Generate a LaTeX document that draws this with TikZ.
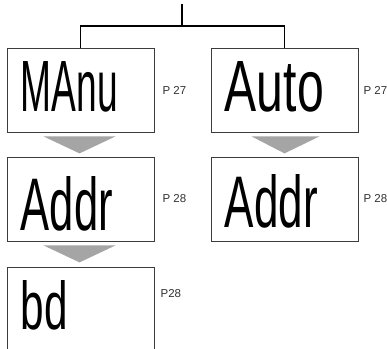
\documentclass[tikz,border=0pt]{standalone}
\usepackage{fontspec}
\setmainfont{Liberation Sans}
\usepackage{xcolor}
\usepackage{graphicx}
\usepackage{tikz}
\usetikzlibrary{positioning, calc}
\definecolor{framegray}{RGB}{60, 60, 60}
\definecolor{stepgray}{RGB}{165, 165, 165}
\definecolor{labelgray}{RGB}{50, 50, 50}

\begin{document}
\begin{tikzpicture}[
    x=1pt, y=-1pt,
    display/.style={draw=framegray, line width=0.8pt, fill=white, minimum width=147pt, minimum height=84pt, inner sep=0pt},
    lcd/.style={inner sep=0pt, font=\fontsize{60}{60}\selectfont},
    pageref/.style={inner sep=0pt, text=labelgray, font=\fontsize{11.5}{12}\selectfont},
    tree/.style={draw=black, line width=1.6pt},
    steptri/.style={fill=stepgray}
]
\useasboundingbox (0,0) rectangle (387,348);

% Displays: manual branch
\node[display] (manu) at (80.5, 90) {};
\node[display] (addrL) at (80.5, 199) {};
\node[display, minimum height=82.5pt] (baud) at (80.5, 308.25) {};

% Displays: automatic branch
\node[display] (auto) at (284.5, 90) {};
\node[display] (addrR) at (284.5, 199) {};

% LCD readings
\node[lcd, below right=14pt and 14pt of manu.north west] (manuTxt) {\resizebox{97pt}{50pt}{MAnu}};
\node[lcd, below right=20pt and 14pt of addrL.north west] (addrLTxt) {\resizebox{92pt}{54pt}{Addr}};
\node[lcd, below right=14pt and 14pt of baud.north west] (baudTxt) {\resizebox{47pt}{49pt}{bd}};
\node[lcd, below right=14pt and 14pt of auto.north west] (autoTxt) {\resizebox{99pt}{50pt}{Auto}};
\node[lcd, below right=18pt and 14pt of addrR.north west] (addrRTxt) {\resizebox{93pt}{53pt}{Addr}};

% Page references
\node[pageref, right=8pt of manu] (p1) {P 27};
\node[pageref, right=8pt of addrL] (p2) {P 28};
\node[pageref, below right=23pt and 6pt of baud.north east] (p3) {P28};
\node[pageref, right=5pt of auto] (p4) {P 27};
\node[pageref, right=5pt of addrR] (p5) {P 28};

% Step arrows
\fill[steptri] ($(manu.south)+(-37,4)$) -- ($(manu.south)+(35,4)$) -- ($(manu.south)+(-1,21)$) -- cycle;
\fill[steptri] ($(addrL.south)+(-37,4)$) -- ($(addrL.south)+(35,4)$) -- ($(addrL.south)+(-1,21)$) -- cycle;
\fill[steptri] ($(auto.south)+(-33,4)$) -- ($(auto.south)+(35,4)$) -- ($(auto.south)+(0,21)$) -- cycle;

% Branching lines
\coordinate (root) at (182, 4);
\coordinate (fork) at (182, 26);
\draw[tree] (root) -- (fork);
\draw[tree] (manu.north) |- (fork) -| (auto.north);

\end{tikzpicture}
\end{document}
